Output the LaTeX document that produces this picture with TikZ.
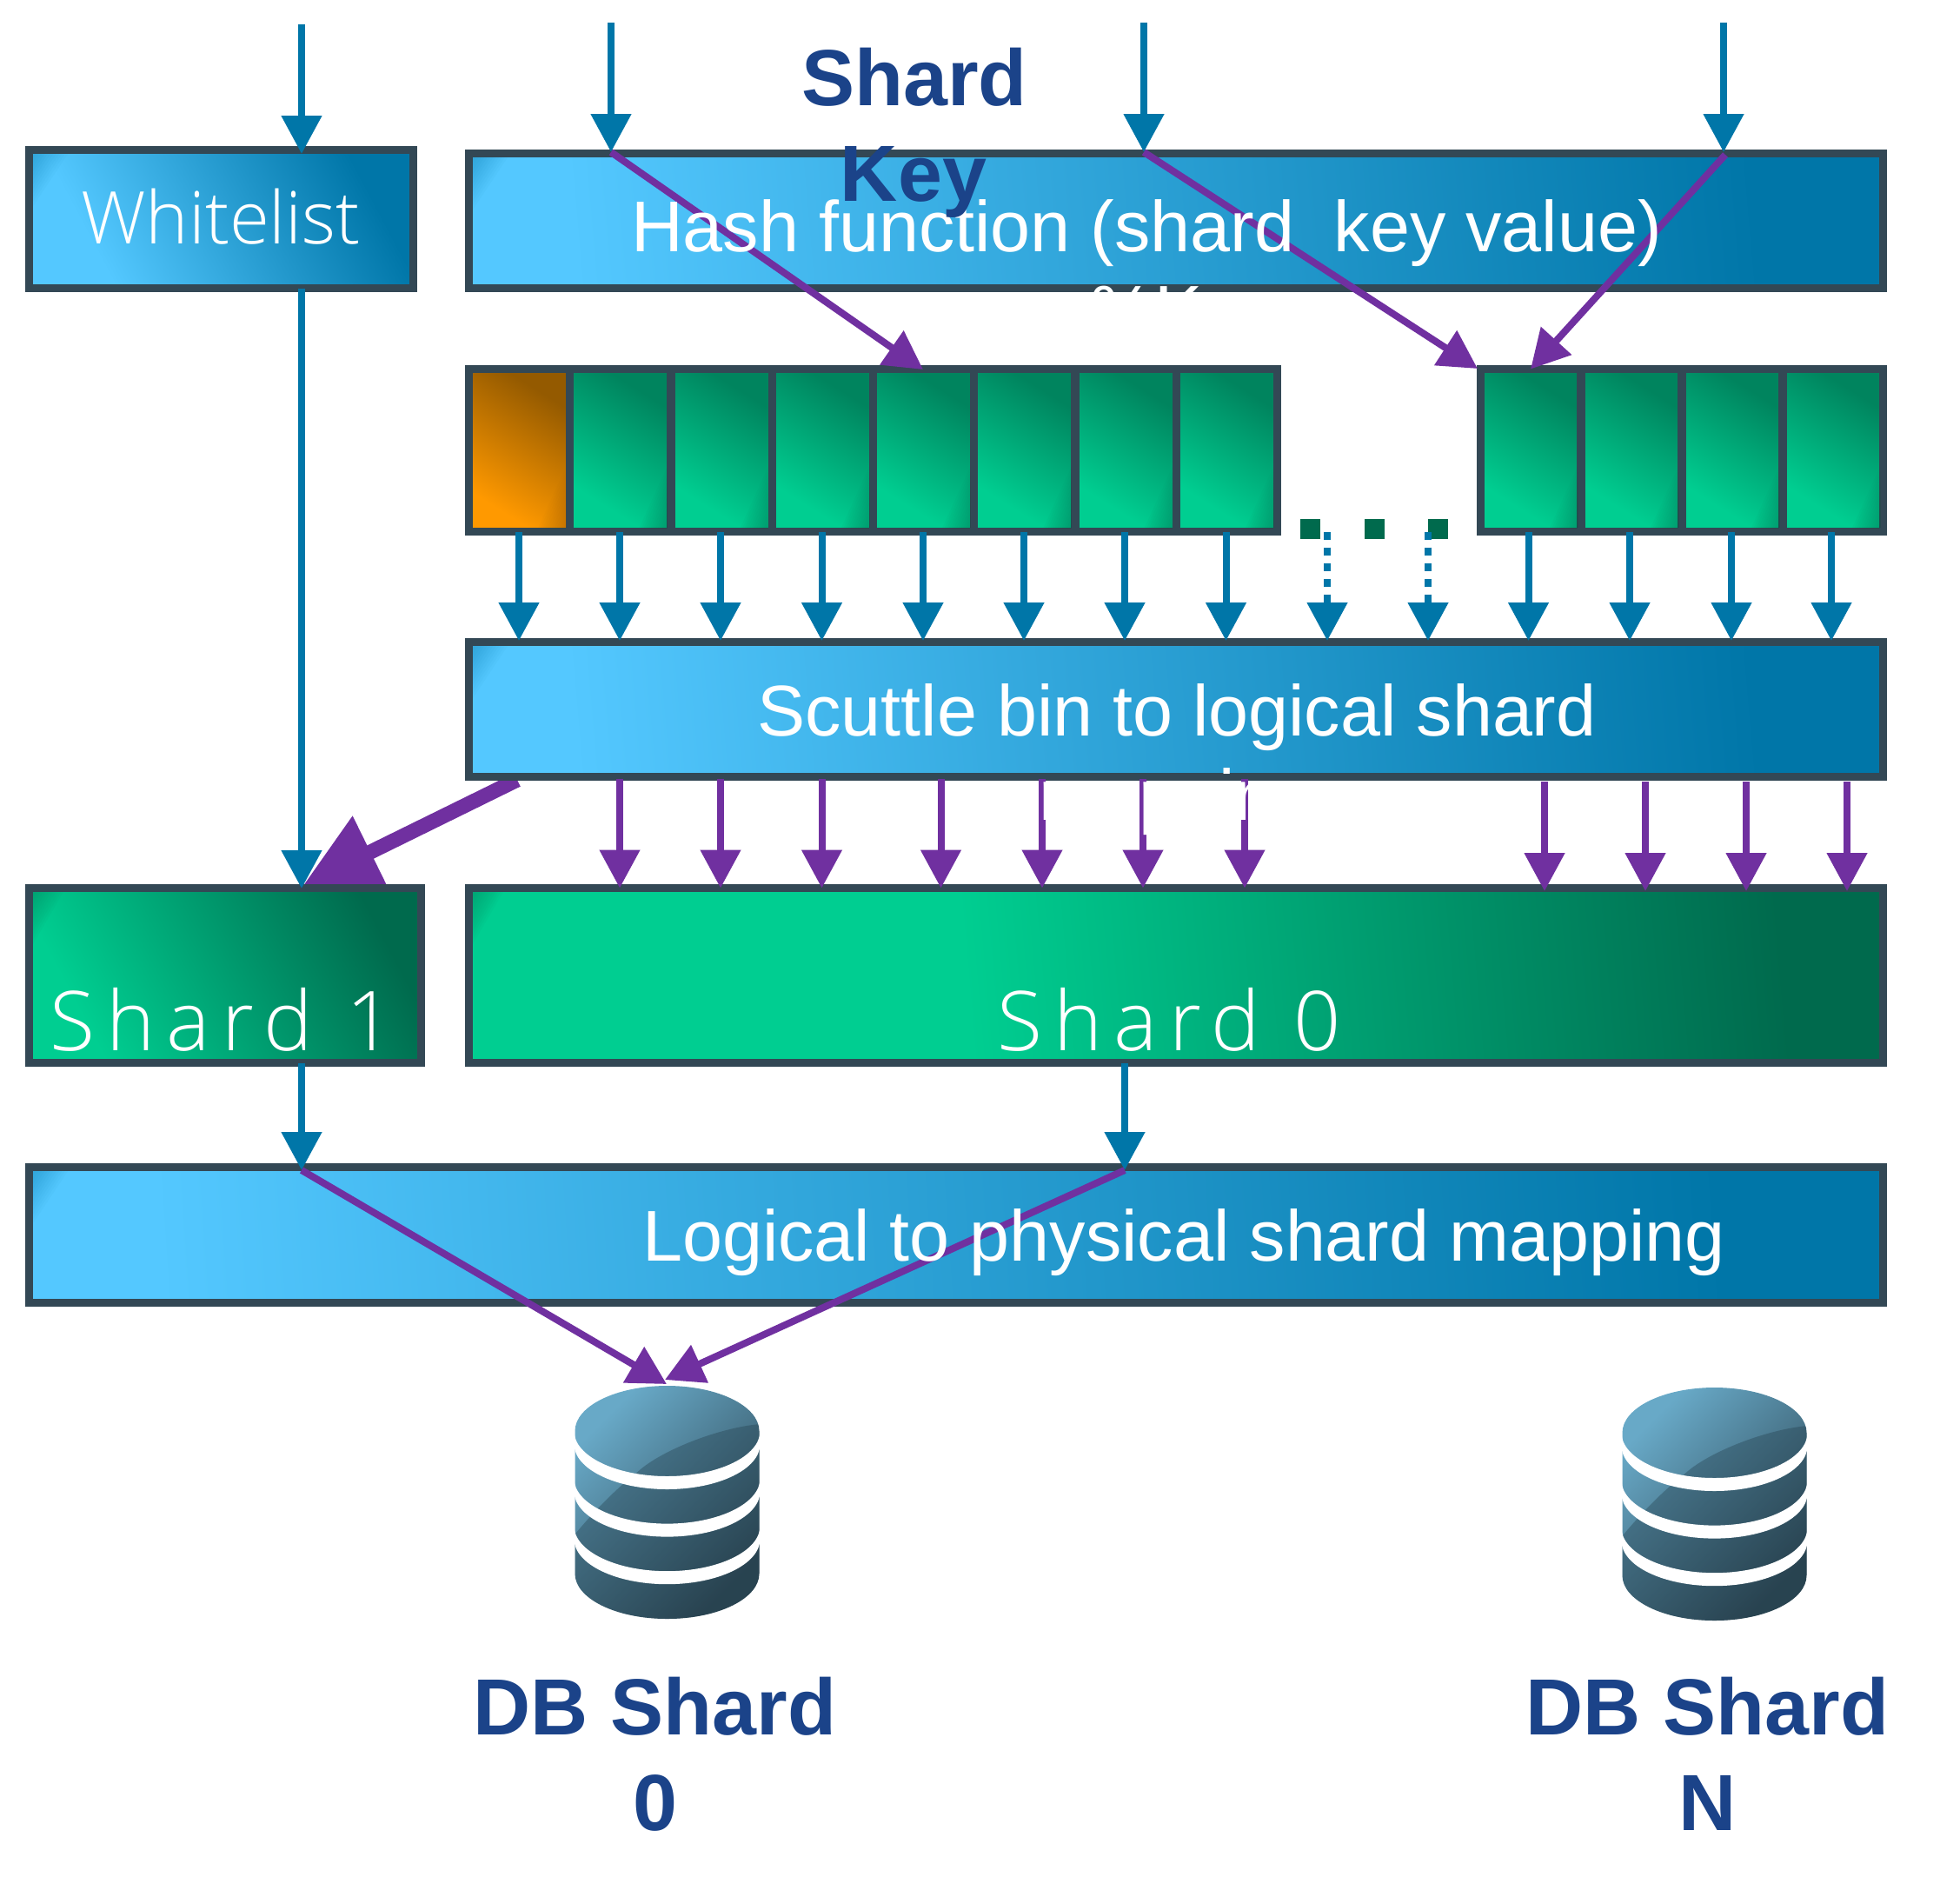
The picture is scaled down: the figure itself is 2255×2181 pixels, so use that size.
\documentclass[tikz,border=0pt]{standalone}
\usepackage{fontspec}
\usetikzlibrary{arrows.meta,calc}
\setmainfont{Liberation Sans}
\newfontfamily\thinfont[UprightFont={* Light}]{Open Sans}
\newfontfamily\thinspaced[UprightFont={* Light},LetterSpace=14]{Open Sans}
\definecolor{edge}{HTML}{334855}
\definecolor{flowblue}{HTML}{0076A8}
\definecolor{flowpurple}{HTML}{7030A0}
\definecolor{titleblue}{HTML}{1B4389}
\definecolor{bl1}{HTML}{54C8FF}
\definecolor{bl2}{HTML}{0076A8}
\definecolor{gr1}{HTML}{00CE91}
\definecolor{gr2}{HTML}{006A4D}
\definecolor{gr3}{HTML}{00845E}
\definecolor{or1}{HTML}{FF9900}
\definecolor{or2}{HTML}{945A00}
\pgfdeclarehorizontalshading{gblue}{100bp}{color(0bp)=(bl1);color(27bp)=(bl1);color(72bp)=(bl2);color(100bp)=(bl2)}
\pgfdeclarehorizontalshading{gbluesmall}{100bp}{color(0bp)=(bl1);color(29bp)=(bl1);color(74bp)=(bl2);color(100bp)=(bl2)}
\pgfdeclarehorizontalshading{ggreen}{100bp}{color(0bp)=(gr1);color(42bp)=(gr1);color(73bp)=(gr2);color(100bp)=(gr2)}
\pgfdeclarehorizontalshading{ggreensmall}{100bp}{color(0bp)=(gr1);color(27bp)=(gr1);color(75bp)=(gr2);color(100bp)=(gr2)}
\pgfdeclarehorizontalshading{gbin}{100bp}{color(0bp)=(gr1);color(30bp)=(gr1);color(72bp)=(gr3);color(100bp)=(gr3)}
\pgfdeclarehorizontalshading{gorange}{100bp}{color(0bp)=(or1);color(28bp)=(or1);color(72bp)=(or2);color(100bp)=(or2)}
\tikzset{
  gbox/.style={draw=edge,line width=4.5pt,inner sep=0pt,shade},
  blueflow/.style={draw=flowblue,line width=4pt,-{Triangle[length=22pt,width=22.5pt]},flowblue},
  purpleflow/.style={draw=flowpurple,line width=4pt,-{Triangle[length=22pt,width=22.5pt]},flowpurple},
  diagflow/.style={draw=flowpurple,line width=4pt,-{Triangle[length=22pt,width=23pt]},flowpurple},
  boxtext/.style={text=white,anchor=base,inner sep=0pt,font=\fontsize{41.35}{49}\selectfont},
  titletext/.style={text=titleblue,anchor=base,inner sep=0pt,font=\fontsize{45.8}{54}\selectfont\bfseries},
}
% \gboxat{name}{x1}{y1}{x2}{y2}{shading}{angle}  (outer edges, px)
\newcommand{\gboxat}[7]{%
  \node[gbox,shading=#6,shading angle=#7,minimum width={(#4-#2-9)*0.5pt},minimum height={(#5-#3-9)*0.5pt}]
    (#1) at ({(#2+#4)/2},{(#3+#5)/2}) {};}
% \cornerfade{x}{y}{legx}{legy}{colour}
\newcommand{\cornerfade}[5]{%
  \foreach \k in {1,...,12}{\fill[#5,opacity=.035] (#1,#2) -- ++({#3*\k/12},0) -- ({#1},{#2+#4*\k/12}) -- cycle;}}
% \dbicon{name}{cx}{top}
\newcommand{\dbicon}[3]{%
  \node[minimum width=106pt,minimum height=134pt,inner sep=0pt] (#1) at (#2,{#3+134}) {};
  \def\dbpath{(#2-106,#3+52) arc[start angle=180,end angle=0,x radius=53pt,y radius=26pt]
    -- (#2+106,#3+216) arc[start angle=0,end angle=-180,x radius=53pt,y radius=26pt] -- cycle}
  \shade[top color=dbl,bottom color=dbd,shading angle=45] \dbpath;
  \begin{scope}
    \clip \dbpath;
    \fill[dbo,opacity=.38] (#2+107,#3+44) .. controls (#2+60,#3+48) and (#2-10,#3+75) .. (#2-36,#3+101)
       .. controls (#2-55,#3+115) and (#2-85,#3+145) .. (#2-107,#3+172) -- (#2-107,#3+280) -- (#2+107,#3+280) -- cycle;
  \end{scope}
  \foreach \i in {0,1,2}{
    \fill[white] (#2-107,{#3+52+54.6*\i+15}) arc[start angle=180,end angle=360,x radius=53.5pt,y radius=26pt]
      -- (#2+107,{#3+52+54.6*\i}) arc[start angle=360,end angle=180,x radius=53.5pt,y radius=26pt] -- cycle;
  }}
\definecolor{dbl}{HTML}{68A9C7}
\definecolor{dbd}{HTML}{2C4552}
\definecolor{dbo}{HTML}{24404E}
\begin{document}
\begin{tikzpicture}[x=0.5pt,y=-0.5pt]
\useasboundingbox (0,0) rectangle (2255,2181);
% thick arrow lies under the Shard 1 box
\coordinate (thickA) at (595,897);
\coordinate (thickB) at (349,1018);
\draw[draw=flowpurple,line width=8.5pt,-{Triangle[length=43pt,width=44pt]},flowpurple] (thickA) -- (thickB);
% boxes
\gboxat{wl}{29}{168}{480}{336}{gbluesmall}{28}
\gboxat{hash}{535}{172}{2171}{336}{gblue}{5}
\foreach \i in {0,...,7}{
  \pgfmathsetmacro\xa{535+116.25*\i}
  \pgfmathsetmacro\xb{\xa+125.2}
  \ifnum\i=0
    \gboxat{b\i}{\xa}{420}{\xb}{616}{gorange}{58}
  \else
    \gboxat{b\i}{\xa}{420}{\xb}{616}{gbin}{58}
  \fi
}
\foreach \i in {0,...,3}{
  \pgfmathsetmacro\xa{1699+116*\i}
  \pgfmathsetmacro\xb{\xa+124}
  \gboxat{c\i}{\xa}{420}{\xb}{616}{gbin}{58}
}
\gboxat{sc}{535}{734}{2171}{898}{gblue}{5}
\gboxat{sh1}{29}{1017}{489}{1227}{ggreensmall}{28}
\gboxat{sh0}{535}{1017}{2171}{1227}{ggreen}{5}
\gboxat{map}{29}{1338}{2171}{1503}{gblue}{4}
\cornerfade{38}{177}{40}{60}{bl2}
\cornerfade{544}{181}{40}{60}{bl2}
\cornerfade{544}{743}{40}{60}{bl2}
\cornerfade{38}{1347}{40}{60}{bl2}
\cornerfade{544}{1026}{35}{60}{gr2}
\cornerfade{38}{1026}{35}{60}{gr2}
\foreach \i in {0,...,7}{
  \pgfmathsetmacro\xc{535+116.25*(\i+1)}
  \ifnum\i=0
    \cornerfade{\xc}{607}{-32}{-70}{or2}
  \else
    \cornerfade{\xc}{607}{-32}{-70}{gr2}
  \fi
}
\foreach \i in {0,...,3}{
  \pgfmathsetmacro\xc{1699+116*(\i+1)}
  \cornerfade{\xc}{607}{-32}{-70}{gr2}
}
% clipped dots
\foreach \n/\x in {d1/1496,d2/1570,d3/1643}{
  \node[fill=gr2,inner sep=0pt,minimum width=11.5pt,minimum height=11.5pt,anchor=north west] (\n) at (\x,597) {};
}
% entry arrows
\coordinate (in1) at (347,28);   \coordinate (wj) at (347,177);
\coordinate (in2) at (703,26);   \coordinate (hj2) at (703,175);
\coordinate (in3) at (1316,26);  \coordinate (hj3) at (1316,175);
\coordinate (in4) at (1983,26);  \coordinate (hj4) at (1983,175);
\coordinate (hs4) at (1985,178);
\draw[blueflow] (in1) -- (wj);
\draw[blueflow] (in2) -- (hj2);
\draw[blueflow] (in3) -- (hj3);
\draw[blueflow] (in4) -- (hj4);
% hash to bins
\coordinate (b4t) at (1062,425);
\coordinate (c0t) at (1700,424);
\coordinate (c0u) at (1761,424.5);
\draw[diagflow] (hj2) -- (b4t);
\draw[diagflow] (hj3) -- (c0t);
\draw[diagflow] (hs4) -- (c0u);
% bins to scuttle
\foreach \i/\x in {0/597,1/713,2/829,3/945.5,4/1062,5/1178,6/1294,7/1410.5}{
  \coordinate (bp\i) at (\x,611.5);
  \coordinate (sp\i) at (\x,737);
  \draw[blueflow] (bp\i) -- (sp\i);
}
\foreach \i/\x in {0/1758.5,1/1875,2/1992,3/2107}{
  \coordinate (cp\i) at (\x,611.5);
  \coordinate (tp\i) at (\x,737);
  \draw[blueflow] (cp\i) -- (tp\i);
}
\foreach \i/\x in {0/1527,1/1643}{
  \coordinate (gp\i) at (\x,611.5);
  \coordinate (up\i) at (\x,737);
  \draw[blueflow,dash pattern=on 4.5pt off 4.5pt] (gp\i) -- (up\i);
}
% scuttle to shards
\foreach \i/\x in {0/713,1/829,2/945.5,3/1082.5,4/1199,5/1315,6/1432}{
  \coordinate (qa\i) at (\x,895.5);
  \coordinate (qb\i) at (\x,1021.5);
  \draw[purpleflow] (qa\i) -- (qb\i);
}
\foreach \i/\x in {0/1777,1/1893,2/2009,3/2125}{
  \coordinate (ra\i) at (\x,899);
  \coordinate (rb\i) at (\x,1025);
  \draw[purpleflow] (ra\i) -- (rb\i);
}
% whitelist to shard 1
\coordinate (wo) at (347,332);
\coordinate (st1) at (347,1022);
\draw[blueflow] (wo) -- (st1);
% shards to mapping
\coordinate (so1) at (347,1223);  \coordinate (mj1) at (347,1346);
\coordinate (so0) at (1294,1223); \coordinate (mj0) at (1294,1346);
\draw[blueflow] (so1) -- (mj1);
\draw[blueflow] (so0) -- (mj0);
% databases
\dbicon{db0}{767.5}{1594}
\dbicon{dbn}{1972.5}{1596}
\coordinate (d0a) at (767,1592);
\coordinate (d0b) at (765,1587);
\draw[diagflow] (mj1) -- (d0a);
\draw[diagflow] (mj0) -- (d0b);
% texts
\node[boxtext,font=\thinfont\fontsize{41.8}{49}\selectfont] (wlt) at (254,280) {Whitelist};
\node[boxtext] (hasht) at (1319,289) {Hash function (shard\hspace{22.8pt}key value)};
\node[boxtext] (hasht2) at (1319,386) {\%K};
\node[boxtext] (sct) at (1354,846) {Scuttle bin to logical shard};
\node[boxtext] (sct2) at (1354,943) {mapping};
\node[boxtext] (mapt) at (1362,1450) {Logical to physical shard mapping};
\node[boxtext,font=\thinspaced\fontsize{47.5}{54}\selectfont] (sh1t) at (255,1208) {Shard 1};
\node[boxtext,font=\thinspaced\fontsize{47.5}{54}\selectfont] (sh0t) at (1345,1208) {Shard 0};
\node[titletext] (tt1) at (1052,121) {Shard};
\node[titletext] (tt2) at (1051,231) {Key};
\node[titletext] (db0a) at (753.5,1995) {DB Shard};
\node[titletext] (db0b) at (753.5,2105) {0};
\node[titletext] (dbna) at (1964.5,1995) {DB Shard};
\node[titletext] (dbnb) at (1964.5,2105) {N};
\end{tikzpicture}
\end{document}
